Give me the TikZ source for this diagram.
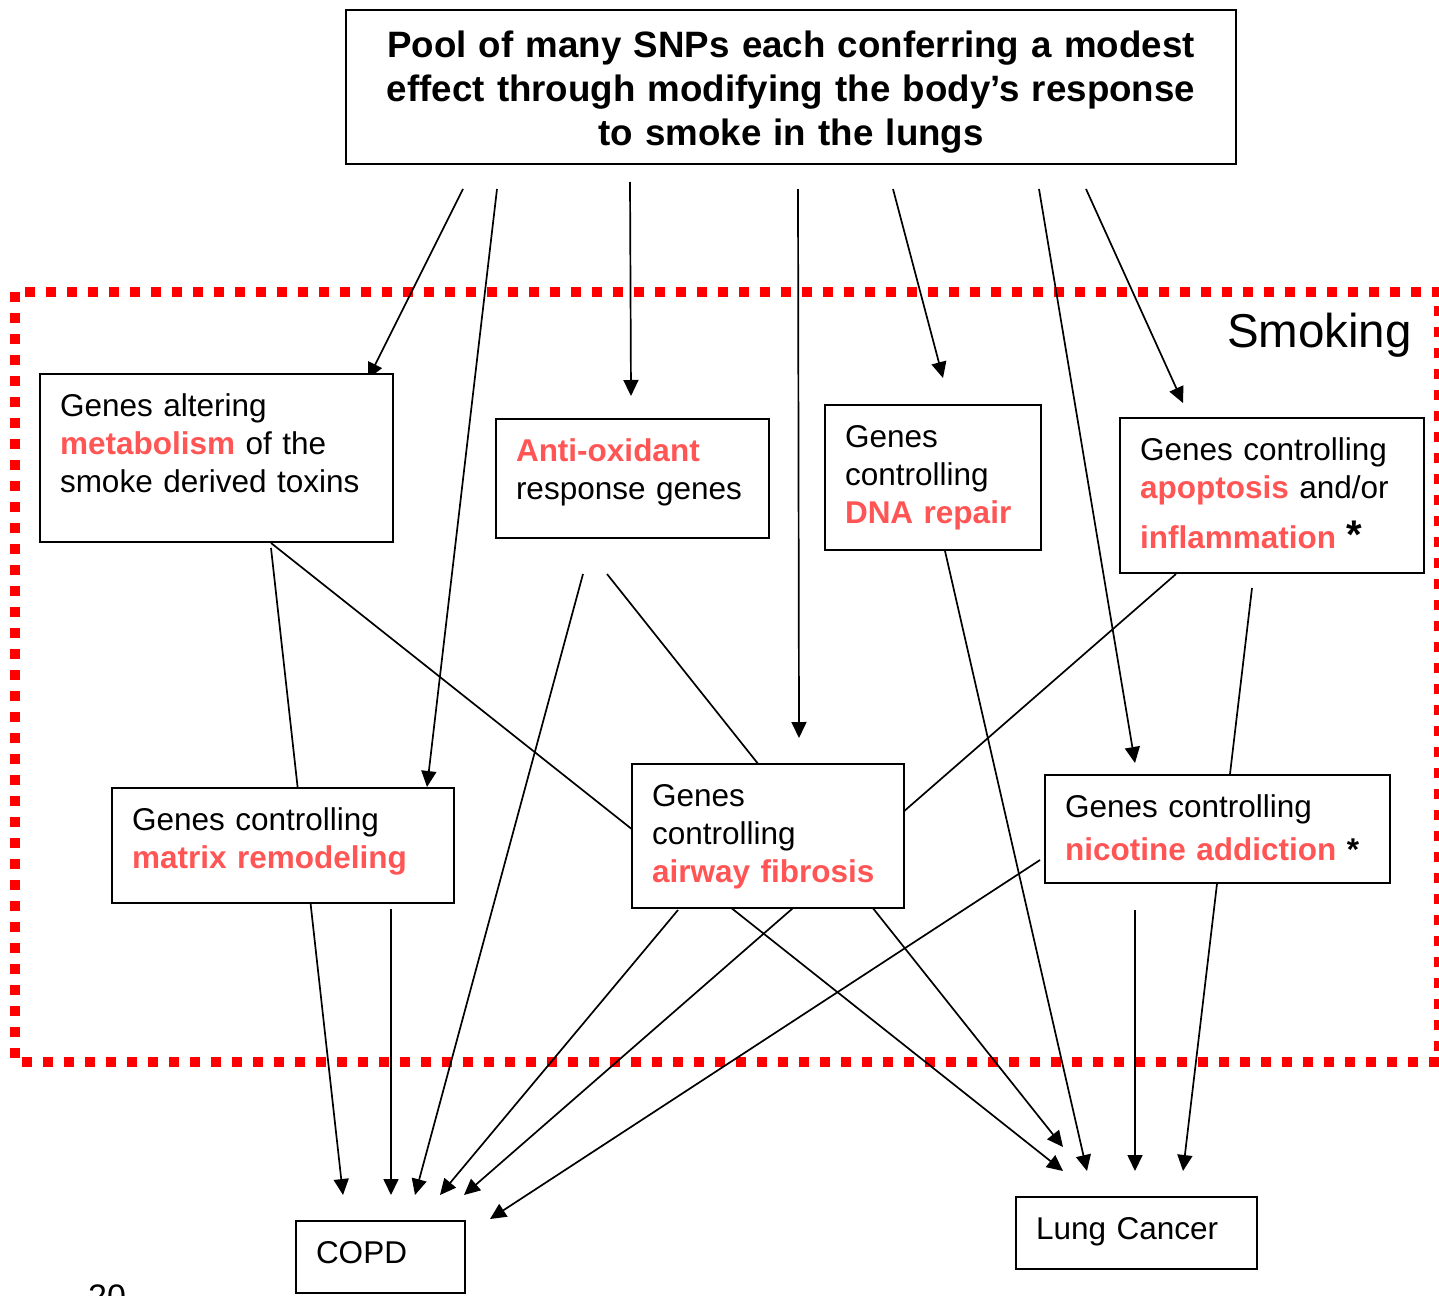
\documentclass[tikz,border=0pt]{standalone}
\usepackage{fontspec}
\setmainfont{Liberation Sans}
\usetikzlibrary{arrows.meta, calc, backgrounds}
\definecolor{keyred}{RGB}{255,85,85}
\newcommand{\keyword}[1]{\textbf{\textcolor{keyred}{#1}}}
\tikzset{
    genebox/.style = {draw, line width = 2pt, fill = white, anchor = north west, align = left,
        inner xsep = 20pt, inner ysep = 0pt, text height = 42pt,
        font = \fontsize{31.5}{38.3}\selectfont},
    poolbox/.style = {draw, line width = 2pt, fill = white, anchor = north, align = center,
        inner sep = 0pt, text width = 890pt, text height = 48pt, text depth = 106pt,
        font = \fontsize{36.7}{44}\selectfont\bfseries},
    feeds/.style = {line width = 1.7pt, -{Triangle[length = 16pt, width = 15pt]}},
    smokeframe/.style = {red, line width = 10pt, dash pattern = on 10pt off 11pt}
}
\begin{document}
\begin{tikzpicture}[x = 1pt, y = -1pt]
    \useasboundingbox (0,0) rectangle (1439,1295);
    \node[poolbox] (pool) at (791,9) {Pool of many SNPs each conferring a modest\\effect through modifying the body’s response\\to smoke in the lungs};
    \node[genebox, text width = 313pt, text depth = 126pt] (metab) at (39,373) {Genes altering\\\keyword{metabolism} of the\\smoke derived toxins};
    \node[genebox, text width = 233pt, text depth = 77pt] (antiox) at (495,418) {\keyword{Anti-oxidant}\\response genes};
    \node[genebox, text width = 176pt, text depth = 103pt] (dnarep) at (824,404) {Genes\\controlling\\\keyword{DNA repair}};
    \node[genebox, text width = 264pt, text depth = 113pt] (apopt) at (1119,417) {Genes controlling\\\keyword{apoptosis} and/or\\[12pt]\keyword{inflammation} {\fontsize{40}{40}\selectfont\textbf{*}}};
    \node[genebox, text width = 302pt, text depth = 73pt] (matrix) at (111,787) {Genes controlling\\\keyword{matrix remodeling}};
    \node[genebox, text width = 232pt, text depth = 102pt] (fibro) at (631,763) {Genes\\controlling\\\keyword{airway fibrosis}};
    \node[genebox, text width = 305pt, text depth = 66pt] (nicot) at (1044,774) {Genes controlling\\[5pt]\keyword{nicotine addiction} \textbf{*}};
    \node[genebox, text width = 201pt, text depth = 30pt] (lungca) at (1015,1196) {Lung Cancer};
    \node[genebox, text width = 129pt, text depth = 30pt] (copd) at (295,1220) {COPD};
    \node[anchor = base east, inner sep = 0pt, font = \fontsize{47.5}{56}\selectfont] (smoking) at (1412,347) {Smoking};
    \node[anchor = base west, inner sep = 0pt, font = \fontsize{34}{40}\selectfont] (slideno) at (88,1308) {20};
    \begin{pgfonlayer}{background}
        \draw[smokeframe] (15,292) rectangle (1439,1062);
        \foreach \tx/\ty/\tgt/\hx/\hy in {118/24/metab/329/6, 152/24/matrix/316/0, 285/17/antiox/136/-22, 453/24/fibro/168/-25, 548/24/dnarep/119/-26, 694/24/nicot/91/-11, 741/24/apopt/64/-14} {
            \draw[feeds] ($(pool.south west)+(\tx,\ty)$) -- ($(\tgt.north west)+(\hx,\hy)$);
        }
        \draw[feeds] ($(metab.south west)+(232,5)$) -- ($(copd.north west)+(48,-25)$);
        \draw[feeds] ($(metab.south west)+(232,0)$) -- ($(lungca.north west)+(48,-25)$);
        \draw[feeds] ($(antiox.south west)+(88,35)$) -- ($(copd.north west)+(120,-25)$);
        \draw[feeds] ($(antiox.south west)+(112,35)$) -- ($(lungca.north west)+(48,-49)$);
        \draw[feeds] ($(dnarep.south west)+(121,0)$) -- ($(lungca.north west)+(72,-25)$);
        \draw[feeds] ($(apopt.south west)+(57,0)$) -- ($(copd.north west)+(169,-25)$);
        \draw[feeds] ($(apopt.south west)+(133,14)$) -- ($(lungca.north west)+(168,-25)$);
        \draw[feeds] ($(matrix.south west)+(280,5)$) -- ($(copd.north west)+(96,-25)$);
        \draw[feeds] ($(fibro.south west)+(47,1)$) -- ($(copd.north west)+(145,-25)$);
        \draw[feeds] ($(nicot.west)+(-4,31)$) -- ($(copd.north east)+(24,-1)$);
        \draw[feeds] ($(nicot.south west)+(91,26)$) -- ($(lungca.north west)+(120,-25)$);
    \end{pgfonlayer}
\end{tikzpicture}
\end{document}
